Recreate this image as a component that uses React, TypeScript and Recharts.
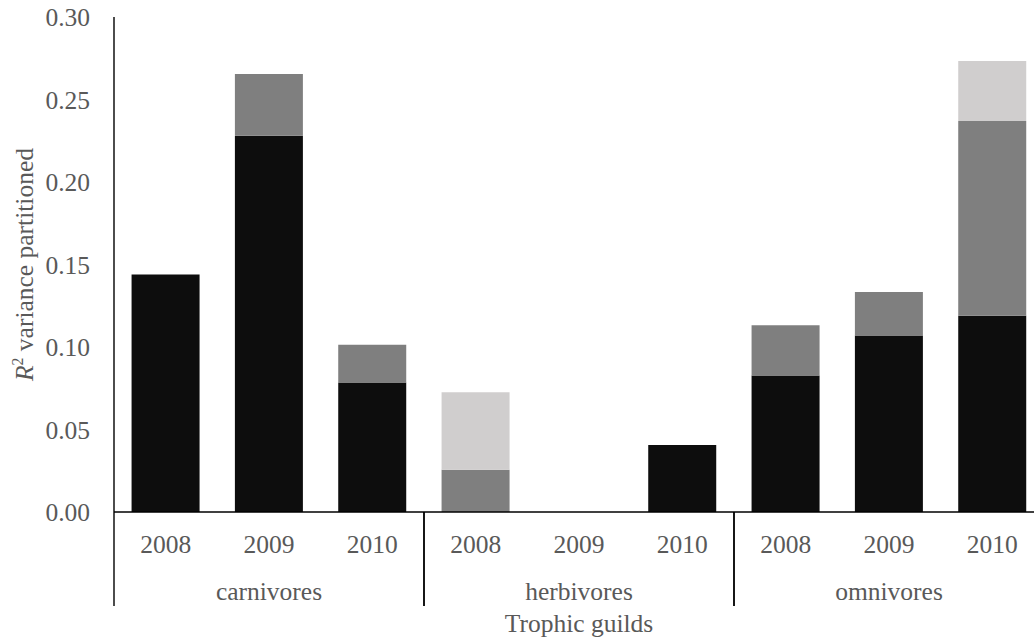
import React from "react";
import { BarChart, Bar, XAxis, YAxis } from "recharts";

// Trophic guilds and survey years along the category axis
const guilds = ["carnivores", "herbivores", "omnivores"];
const years = ["2008", "2009", "2010"];

// R² partitions per guild/year (stacked bottom to top)
const partA = [0.144, 0.228, 0.0785, 0, 0, 0.0406, 0.0827, 0.107, 0.119];
const partB = [0, 0.0375, 0.0228, 0.0256, 0, 0, 0.0305, 0.0263, 0.118];
const partC = [0, 0, 0, 0.047, 0, 0, 0, 0, 0.0363];

const yTicks = [0, 0.05, 0.1, 0.15, 0.2, 0.25, 0.3];

const data = guilds.flatMap((g, gi) =>
  years.map((y, yi) => {
    const i = gi * 3 + yi;
    return { key: `${g} ${y}`, guild: g, year: y, a: partA[i], b: partB[i], c: partC[i] };
  })
);

const CHART_W = 1044;
const CHART_H = 642;
const Y_AXIS_W = 114;
const BAND = (CHART_W - Y_AXIS_W) / data.length;

const FONT = "'Liberation Serif', 'Times New Roman', serif";
const TEXT = "#595959";
const FS = 25.5;

const CategoryTick = (props: any) => {
  const { x, y, index } = props;
  const row = data[index];
  if (!row) return null;
  const pos = index % 3;
  return (
    <g>
      <text x={x} y={y + 40.5} textAnchor="middle" fill={TEXT} fontFamily={FONT} fontSize={FS}>
        {row.year}
      </text>
      {pos === 1 && (
        <text x={x} y={y + 88} textAnchor="middle" fill={TEXT} fontFamily={FONT} fontSize={FS}>
          {row.guild}
        </text>
      )}
      {pos === 0 && (
        <line x1={x - BAND / 2} x2={x - BAND / 2} y1={y} y2={y + 94} stroke="#000" strokeWidth={1.4} />
      )}
      {pos === 2 && (
        <line x1={x + BAND / 2} x2={x + BAND / 2} y1={y} y2={y + 94} stroke="#000" strokeWidth={1.4} />
      )}
    </g>
  );
};

const XLabel = (props: any) => {
  const vb = props.viewBox || {};
  const cx = (vb.x ?? 0) + (vb.width ?? 0) / 2;
  const cy = (vb.y ?? 0) + 120;
  return (
    <text x={cx} y={cy} textAnchor="middle" fill={TEXT} fontFamily={FONT} fontSize={FS}>
      Trophic guilds
    </text>
  );
};

const YLabel = (props: any) => {
  const vb = props.viewBox || {};
  const cy = (vb.y ?? 0) + (vb.height ?? 0) / 2;
  const cx = 33;
  return (
    <text
      x={cx}
      y={cy}
      transform={`rotate(-90, ${cx}, ${cy})`}
      textAnchor="middle"
      fill={TEXT}
      fontFamily={FONT}
      fontSize={FS}
    >
      <tspan fontStyle="italic">R</tspan>
      <tspan fontSize={FS * 0.62} dy={-10}>2</tspan>
      <tspan dy={10}> variance partitioned</tspan>
    </text>
  );
};

export default function App() {
  return (
    <div
      style={{
        position: "absolute",
        left: 0,
        top: 0,
        width: 1034,
        height: 642,
        overflow: "hidden",
        background: "#fff",
      }}
    >
      <BarChart
        width={CHART_W}
        height={CHART_H}
        data={data}
        margin={{ top: 17, right: 0, bottom: 0, left: 0 }}
        barCategoryGap="17%"
      >
        <XAxis
          dataKey="key"
          height={130}
          interval={0}
          tickSize={0}
          tickMargin={0}
          tick={<CategoryTick />}
          axisLine={{ stroke: "#000", strokeWidth: 1.4 }}
          tickLine={false}
          label={<XLabel />}
        />
        <YAxis
          width={Y_AXIS_W}
          domain={[0, 0.3]}
          ticks={yTicks}
          interval={0}
          tickSize={0}
          tickMargin={24}
          tickLine={false}
          axisLine={{ stroke: "#000", strokeWidth: 1.4 }}
          tickFormatter={(v: number) => v.toFixed(2)}
          tick={{ fill: TEXT, fontFamily: FONT, fontSize: FS }}
          label={<YLabel />}
        />
        <Bar dataKey="a" stackId="s" fill="#0d0d0d" isAnimationActive={false} />
        <Bar dataKey="b" stackId="s" fill="#7f7f7f" isAnimationActive={false} />
        <Bar dataKey="c" stackId="s" fill="#d0cece" isAnimationActive={false} />
      </BarChart>
    </div>
  );
}
